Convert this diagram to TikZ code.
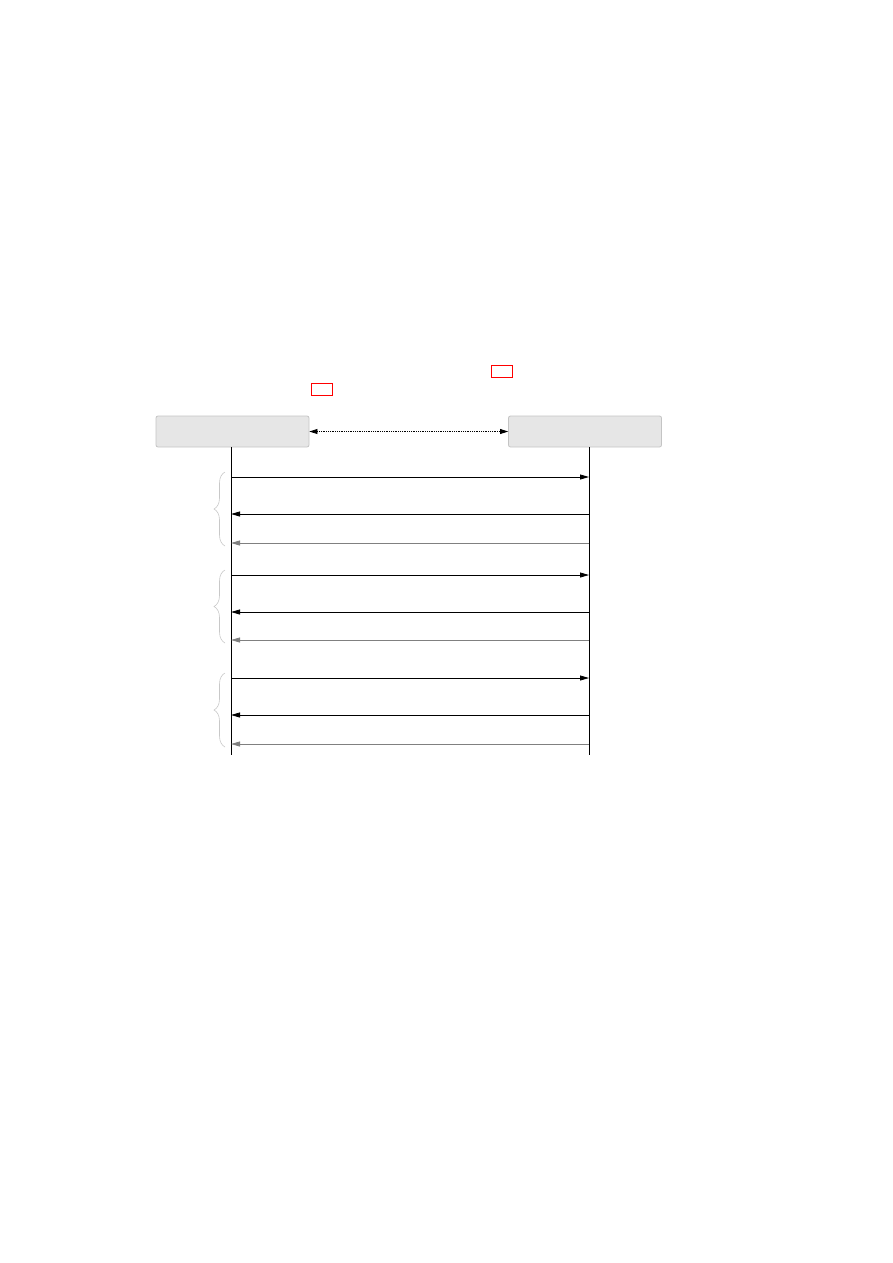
\documentclass[tikz,border=0pt]{standalone}
\usetikzlibrary{arrows.meta,decorations.pathreplacing}
\definecolor{boxfill}{HTML}{E6E6E6}
\definecolor{boxline}{HTML}{C4C4C4}
\definecolor{msggray}{HTML}{808080}
\definecolor{bracegray}{HTML}{C8C8C8}
\tikzset{
  headbox/.style={draw=boxline, fill=boxfill, rounded corners=2pt, minimum width=153pt, minimum height=31pt, inner sep=0pt, line width=0.8pt},
  redbox/.style={draw=red, line width=1.4pt, minimum width=21pt, minimum height=12pt, inner sep=0pt},
  lifeline/.style={line width=0.8pt, black},
  msg/.style={line width=0.8pt, -{Triangle[length=9pt,width=5pt]}},
  reply/.style={msg, msggray},
  grp/.style={bracegray, line width=0.6pt, decorate, decoration={brace, amplitude=11pt}},
}
\begin{document}
\begin{tikzpicture}[x=1pt,y=-1pt]
\useasboundingbox (0,0) rectangle (893,1263);
\node[redbox] (r1) at (502,371.5) {};
\node[redbox] (r2) at (322,389.5) {};
\node[headbox] (A) at (232.5,431.5) {};
\node[headbox] (B) at (585,431.5) {};
\draw[densely dotted, line width=0.8pt, {Triangle[length=8pt,width=5pt]}-{Triangle[length=8pt,width=5pt]}] (A.east) -- (B.west);
\coordinate (Aend) at (231,755);
\coordinate (Bend) at (589,755);
\draw[lifeline] (231,447) -- (Aend);
\draw[lifeline] (589,447) -- (Bend);
\foreach \i/\ya/\yb/\yc/\bt/\bb in {1/477/514/543/472/546, 2/575/612/640/570/643, 3/678/715/744/673/747}{
  \coordinate (a\i) at (231,\ya); \coordinate (b\i) at (589,\ya);
  \coordinate (c\i) at (231,\yb); \coordinate (d\i) at (589,\yb);
  \coordinate (e\i) at (231,\yc); \coordinate (f\i) at (589,\yc);
  \draw[msg] (a\i) -- (b\i);
  \draw[msg] (d\i) -- (c\i);
  \draw[reply] (f\i) -- (e\i);
  \coordinate (bt\i) at (225,\bt); \coordinate (bb\i) at (225,\bb);
  \draw[grp] (bb\i) -- (bt\i);
}
\end{tikzpicture}
\end{document}
